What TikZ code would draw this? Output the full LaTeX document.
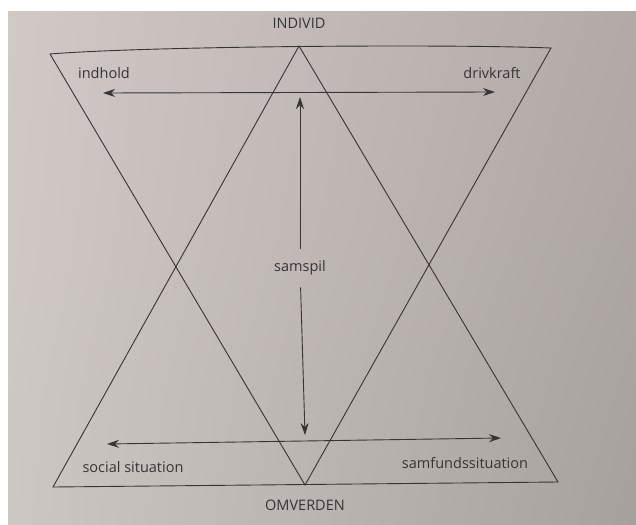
\documentclass[tikz,border=0pt]{standalone}
\usepackage{fontspec}
\setmainfont{Open Sans}
\usetikzlibrary{arrows.meta,shadings}
\definecolor{ink}{RGB}{55,52,52}
\definecolor{paperUL}{RGB}{210,201,199}
\definecolor{paperUR}{RGB}{178,170,167}
\definecolor{paperLL}{RGB}{204,199,194}
\definecolor{paperLR}{RGB}{166,161,156}

\begin{document}
\begin{tikzpicture}[x=1pt,y=-1pt,
 lbl/.style={text=ink,font=\fontsize{14.5}{17}\selectfont,inner sep=0pt},
 edge/.style={draw=ink,line width=0.9pt},
 arr/.style={edge,{Stealth[length=12pt,width=8pt]}-{Stealth[length=12pt,width=8pt]}},
 tip/.style={edge,-{Stealth[length=12pt,width=8pt]}}]
 % paper
 \fill[white] (0,0) rectangle (636,524);
 \shade[upper left=paperUL,upper right=paperUR,lower left=paperLL,lower right=paperLR] (8,12) rectangle (636,524);
 \useasboundingbox (0,0) rectangle (636,524);
 % corners of the two triangles
 \coordinate (tl) at (50,54);
 \coordinate (tr) at (551,48);
 \coordinate (top) at (299,46);
 \coordinate (bl) at (53,487);
 \coordinate (br) at (558,482);
 \coordinate (bot) at (305,485);
 \draw[edge] (tl) .. controls (150,46) and (450,44) .. (tr) -- (bot) -- cycle;
 \draw[edge] (top) -- (bl) -- (br) -- cycle;
 % labels
 \node[lbl] (individ) at (299,23) {INDIVID};
 \node[lbl] (indhold) at (104,73) {indhold};
 \node[lbl] (drivkraft) at (492,73) {drivkraft};
 \node[lbl,inner ysep=12pt] (samspil) at (300,268) {samspil};
 \node[lbl] (social) at (133,467) {social situation};
 \node[lbl] (samfund) at (465,463) {samfundssituation};
 \node[lbl] (omverden) at (305,505) {OMVERDEN};
 % arrows
 \coordinate (hl) at (103,93);
 \coordinate (hr) at (495,92);
 \coordinate (ll) at (107,444);
 \coordinate (lr) at (501,438);
 \coordinate (vt) at (300,97);
 \coordinate (vb) at (305,435);
 \draw[arr] (hl) -- (hr);
 \draw[arr] (ll) -- (lr);
 \draw[tip] (samspil) -- (vt);
 \draw[tip] (samspil) -- (vb);
\end{tikzpicture}
\end{document}
